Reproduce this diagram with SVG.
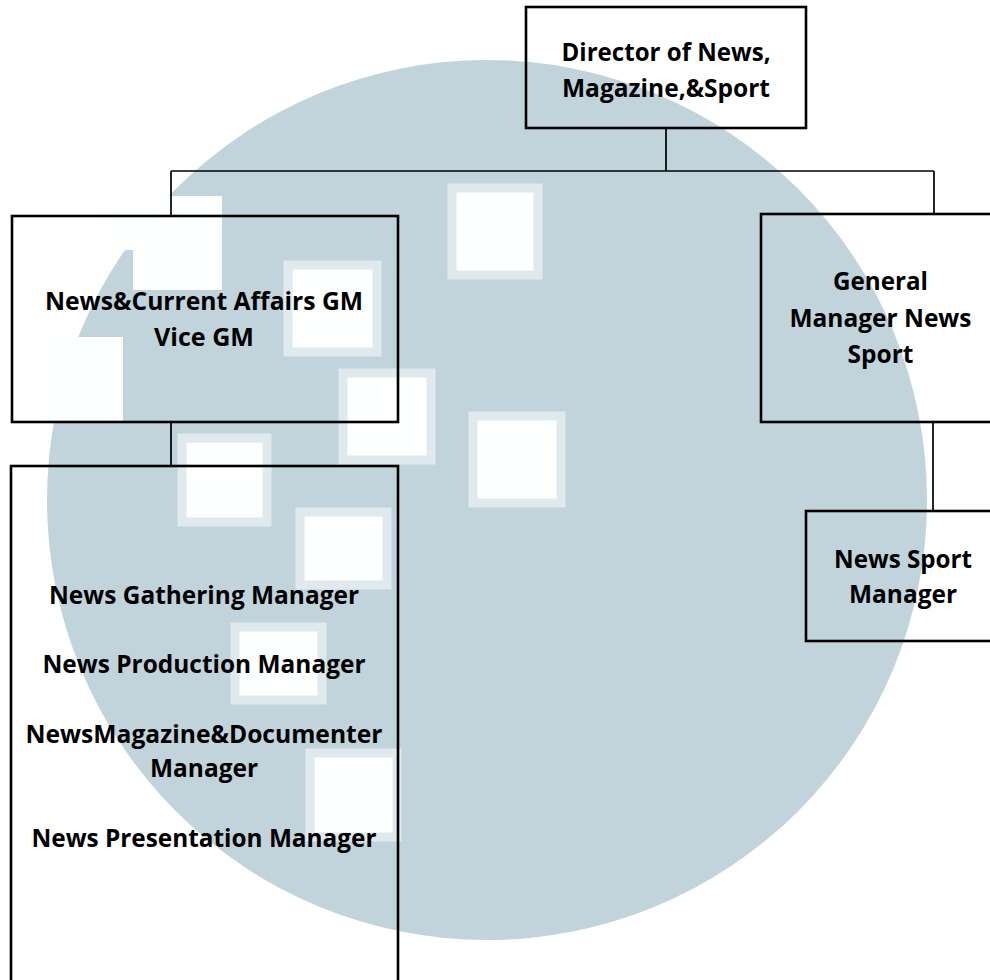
<svg xmlns="http://www.w3.org/2000/svg" width="990" height="980" viewBox="0 0 990 980">
<style>
.box{fill:none;stroke:#000;stroke-width:2.6}
.conn{fill:none;stroke:#000;stroke-width:1.7}
.sq{fill:#fdfefe;stroke:#e0eaee;stroke-width:9}
text{font-family:"Open Sans","Noto Sans","Liberation Sans",sans-serif;font-weight:700;font-size:25px;fill:#000;text-anchor:middle}
</style>
<rect width="990" height="980" fill="#fff"/>
<g id="watermark">
<circle cx="487" cy="500" r="440" fill="#c2d4db"/>
<polygon points="100,196 222,196 222,290 133,290 133,250 100,250" fill="#fdfefe"/>
<rect x="40" y="337" width="83" height="86" fill="#fdfefe"/>
<rect class="sq" x="452" y="188" width="86" height="87"/>
<rect class="sq" x="473" y="416" width="88" height="87"/>
<rect class="sq" x="288" y="265" width="89" height="87"/>
<rect class="sq" x="343" y="373" width="88" height="87"/>
<rect class="sq" x="182" y="438" width="85" height="84"/>
<rect class="sq" x="300" y="512" width="87" height="73"/>
<rect class="sq" x="235" y="627" width="87" height="73"/>
<rect class="sq" x="310" y="753" width="87" height="84"/>
</g>
<g id="connectors">
<path class="conn" d="M666,128 V171 M171,171 H934 M171,171 V216 M934,171 V214 M171,422 V466 M933,422 V511"/>
</g>
<g id="director">
<rect class="box" x="526" y="7" width="280" height="121"/>
<text x="666" y="61" textLength="209" lengthAdjust="spacingAndGlyphs">Director of News,</text>
<text x="666" y="97" textLength="208" lengthAdjust="spacingAndGlyphs">Magazine,&amp;Sport</text>
</g>
<g id="news-current-affairs">
<rect class="box" x="12" y="216" width="386" height="206"/>
<text x="204" y="310" textLength="318" lengthAdjust="spacingAndGlyphs">News&amp;Current Affairs GM</text>
<text x="204" y="346" textLength="100" lengthAdjust="spacingAndGlyphs">Vice GM</text>
</g>
<g id="gm-news-sport">
<rect class="box" x="761" y="214" width="240" height="208"/>
<text x="880.5" y="290" textLength="95" lengthAdjust="spacingAndGlyphs">General</text>
<text x="880.5" y="327" textLength="182" lengthAdjust="spacingAndGlyphs">Manager News</text>
<text x="880.5" y="363" textLength="66" lengthAdjust="spacingAndGlyphs">Sport</text>
</g>
<g id="news-sport-manager">
<rect class="box" x="806" y="511" width="195" height="130"/>
<text x="903" y="568" textLength="138" lengthAdjust="spacingAndGlyphs">News Sport</text>
<text x="903" y="603" textLength="108" lengthAdjust="spacingAndGlyphs">Manager</text>
</g>
<g id="news-managers">
<rect class="box" x="11" y="466" width="387" height="530"/>
<text x="204" y="604" textLength="310" lengthAdjust="spacingAndGlyphs">News Gathering Manager</text>
<text x="204" y="673" textLength="323" lengthAdjust="spacingAndGlyphs">News Production Manager</text>
<text x="204" y="743" textLength="357" lengthAdjust="spacingAndGlyphs">NewsMagazine&amp;Documenter</text>
<text x="204" y="777" textLength="108" lengthAdjust="spacingAndGlyphs">Manager</text>
<text x="204" y="847" textLength="345" lengthAdjust="spacingAndGlyphs">News Presentation Manager</text>
</g>
</svg>
